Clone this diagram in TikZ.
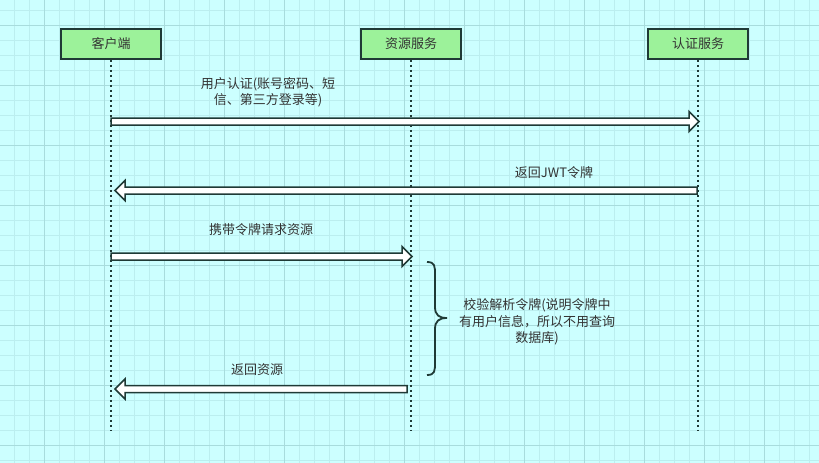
\documentclass[tikz,border=0pt]{standalone}
\usepackage{fontspec}
\setmainfont{Noto Sans CJK SC}
\usetikzlibrary{positioning,calc}
\definecolor{paper}{HTML}{CCFFFF}
\definecolor{minor}{HTML}{BBEEEF}
\definecolor{major}{HTML}{A8DCDD}
\definecolor{boxfill}{HTML}{9CF29A}
\definecolor{ink}{HTML}{1F3A36}
\definecolor{label}{HTML}{333333}

\tikzset{
  party/.style={draw=ink,line width=1.5pt,fill=boxfill,minimum width=100pt,minimum height=30pt,
    inner sep=0pt,font=\fontsize{13}{16}\selectfont,text=label},
  lifeline/.style={ink,line width=2pt,dash pattern=on 2pt off 3pt},
  msg/.style={font=\fontsize{13}{16.5}\selectfont,text=label,align=center},
  hollow/.style={draw=ink,fill=white,line width=1.5pt,line join=miter,
    to path={let \p1=(\tikztostart),\p2=(\tikztotarget),\n1={sign(\x2-\x1)} in
      (\x1,\y1+3.5pt) -- (\x2-\n1*10pt,\y1+3.5pt) -- (\x2-\n1*10pt,\y1+10pt) -- (\x2,\y1)
      -- (\x2-\n1*10pt,\y1-10pt) -- (\x2-\n1*10pt,\y1-3.5pt) -- (\x1,\y1-3.5pt) -- cycle}}
}

\begin{document}
\begin{tikzpicture}[x=1pt,y=-1pt]
  \useasboundingbox (0,0) rectangle (819,463);
  % grid paper
  \fill[paper] (0,0) rectangle (819,463);
  \foreach \gx in {14,29,...,809} \draw[minor,line width=.5pt] (\gx,0) -- (\gx,463);
  \foreach \gy in {10,25,...,460} \draw[minor,line width=.5pt] (0,\gy) -- (819,\gy);
  \foreach \gx in {44,104,...,764} \draw[major,line width=.8pt] (\gx,0) -- (\gx,463);
  \foreach \gy in {25,85,...,445} \draw[major,line width=.8pt] (0,\gy) -- (819,\gy);

  % participants
  \node[party] (client) at (111,44) {客户端};
  \node[party] (resource) at (411,44) {资源服务};
  \node[party] (auth) at (698,44) {认证服务};

  % lifelines
  \coordinate (clientEnd) at (client |- 0,430);
  \coordinate (resourceEnd) at (resource |- 0,430);
  \coordinate (authEnd) at (auth |- 0,430);
  \draw[lifeline] (client.south) -- (clientEnd);
  \draw[lifeline] (resource.south) -- (resourceEnd);
  \draw[lifeline] (auth.south) -- (authEnd);

  % message end points
  \coordinate (loginFrom) at (client |- 0,121.5);
  \coordinate (loginTo) at ($(auth |- 0,121.5)+(1,0)$);
  \coordinate (jwtFrom) at ($(auth |- 0,190.5)+(-1,0)$);
  \coordinate (jwtTo) at ($(client |- 0,190.5)+(4,0)$);
  \coordinate (askFrom) at (client |- 0,256.5);
  \coordinate (askTo) at ($(resource |- 0,256.5)+(1,0)$);
  \coordinate (backFrom) at ($(resource |- 0,389)+(-4,0)$);
  \coordinate (backTo) at ($(client |- 0,389)+(4,0)$);

  % messages
  \draw[hollow] (loginFrom) to (loginTo);
  \node[msg] (loginText) at (268,92) {用户认证(账号密码、短\\信、第三方登录等)};
  \draw[hollow] (jwtFrom) to (jwtTo);
  \node[msg] (jwtText) at (554,173) {返回JWT令牌};
  \draw[hollow] (askFrom) to (askTo);
  \node[msg] (askText) at (261,230) {携带令牌请求资源};
  \draw[hollow] (backFrom) to (backTo);
  \node[msg] (backText) at (257,370) {返回资源};

  % token check on the resource side
  \draw[ink,line width=1.8pt] (427,262) .. controls (435,262) and (435,266) .. (435,275)
    -- (435,307) .. controls (435,315) and (439,318) .. (447,318)
    .. controls (439,318) and (435,321) .. (435,329)
    -- (435,362) .. controls (435,371) and (435,375) .. (427,375);
  \node[msg] (checkText) at (537,322) {校验解析令牌(说明令牌中\\有用户信息，所以不用查询\\数据库)};
\end{tikzpicture}
\end{document}
